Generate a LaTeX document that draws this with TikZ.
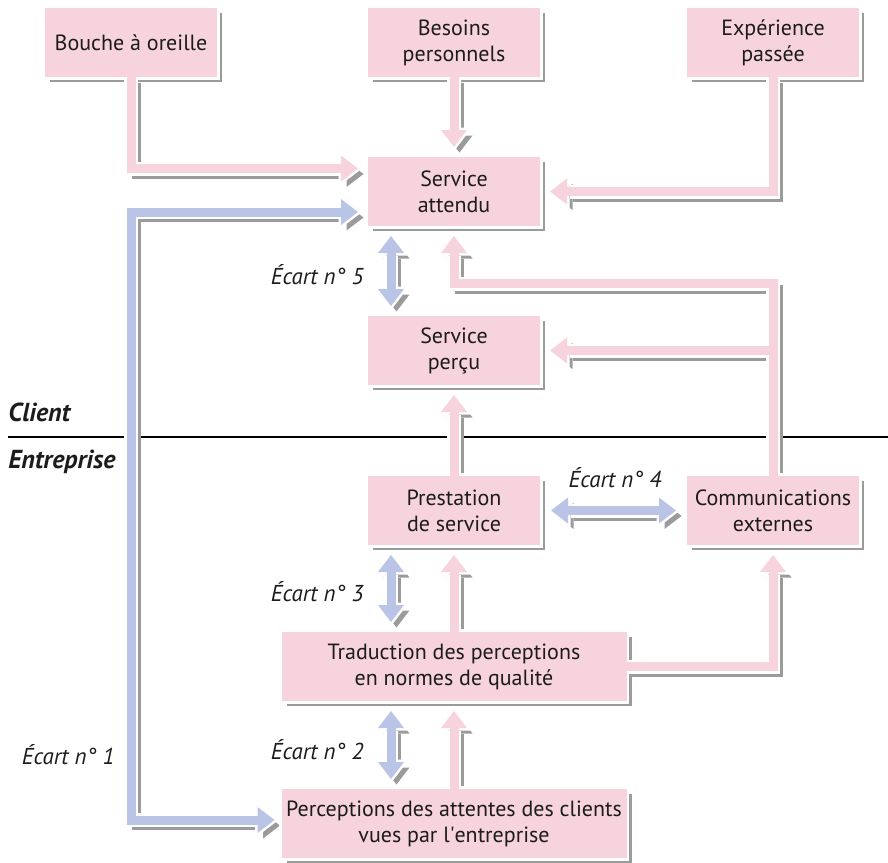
\documentclass[tikz,border=0pt]{standalone}
\usepackage{fontspec}
\setmainfont{PT Sans}
\usetikzlibrary{positioning,arrows.meta,shadows}
\definecolor{rose}{RGB}{246,211,221}
\definecolor{bleu}{RGB}{186,196,230}
\definecolor{gris}{RGB}{155,155,155}
\definecolor{encre}{RGB}{28,28,28}
\pgfdeclarelayer{ombres}
\pgfdeclarelayer{halos}
\pgfdeclarelayer{fleches}
\pgfsetlayers{ombres,main,halos,fleches}

\tikzset{
  boite/.style={fill=rose, minimum width=86pt, minimum height=34.5pt, inner sep=2pt,
    outer sep=0pt, align=center,
    general shadow={fill=gris, shadow xshift=2.65pt, shadow yshift=-2.65pt},
    preaction={draw=white, line width=2.6pt}},
  large/.style={boite, minimum width=172.5pt},
  trait/.style={line width=4.5pt, >={Triangle[length=8.5pt,width=13pt,line width=0pt]}},
  ombre/.style={trait, draw=gris, transform canvas={xshift=2.75pt,yshift=-2.75pt}},
  halo/.style={draw=white, line width=7pt,
    >={Triangle[length=11.8pt,width=18pt,line width=0pt]}, shorten >=-2.05pt},
  separation/.style={draw=black, line width=1pt},
  ecart/.style={font=\fontsize{11.5}{14}\selectfont\itshape, inner sep=0pt},
  zone/.style={font=\fontsize{13}{16}\selectfont\bfseries\itshape, inner sep=0pt, anchor=west},
}

\newcommand{\fleche}[2]{%
  \begin{pgfonlayer}{ombres}\draw[ombre,->] #2;\end{pgfonlayer}
  \begin{pgfonlayer}{halos}\draw[halo,->] #2;\end{pgfonlayer}
  \begin{pgfonlayer}{fleches}\draw[trait,draw=#1,->] #2;\end{pgfonlayer}}
\newcommand{\doublefleche}[2]{%
  \begin{pgfonlayer}{ombres}\draw[ombre,<->] #2;\end{pgfonlayer}
  \begin{pgfonlayer}{halos}\draw[halo,shorten <=-2.05pt,<->] #2;\end{pgfonlayer}
  \begin{pgfonlayer}{fleches}\draw[trait,draw=#1,<->] #2;\end{pgfonlayer}}

\begin{document}
\begin{tikzpicture}[x=0.5pt,y=-0.5pt,font=\fontsize{11}{13}\selectfont,text=encre]
\useasboundingbox (0,0) rectangle (888,862);

\node[boite] (attendu) at (454,191.5) {Service\\attendu};
\node[boite] (besoins) [above=40pt of attendu] {Besoins\\personnels};
\node[boite] (bouche) [left=75.5pt of besoins] {Bouche à oreille};
\node[boite] (experience) [right=73.5pt of besoins] {Expérience\\passée};
\node[boite] (percu) [below=45pt of attendu] {Service\\perçu};
\node[boite] (prestation) [below=45.5pt of percu] {Prestation\\de service};
\node[boite] (comm) [right=73.5pt of prestation] {Communications\\externes};
\node[large] (traduction) [below=43.5pt of prestation] {Traduction des perceptions\\en normes de qualité};
\node[large] (perceptions) [below=44pt of traduction] {Perceptions des attentes des clients\\vues par l\textquotesingle entreprise};

\node[zone] (client) at (8,412) {Client};
\node[zone] (entreprise) at (8,462) {Entreprise};
\node[ecart,anchor=east] (ecart5) at (364,275) {Écart n° 5};
\node[ecart] (ecart4) at (615,478) {Écart n° 4};
\node[ecart,anchor=east] (ecart3) at (364,592) {Écart n° 3};
\node[ecart,anchor=east] (ecart2) at (364,750) {Écart n° 2};
\node[ecart,anchor=east] (ecart1) at (115,755) {Écart n° 1};

\begin{pgfonlayer}{ombres}
\draw[separation] (8,437) -- (888,437);
\end{pgfonlayer}

\coordinate (e1haut) at ([xshift=-5pt,yshift=-10.25pt]attendu.west);
\coordinate (e1bas) at ([xshift=-3.5pt,yshift=1.75pt]perceptions.west);

\fleche{rose}{(bouche.south) |- ([xshift=-5pt,yshift=11.5pt]attendu.west)}
\fleche{rose}{(besoins.south) -- ([yshift=5pt]attendu.north)}
\fleche{rose}{(experience.south) |- ([xshift=5pt]attendu.east)}
\doublefleche{bleu}{(e1haut) -| (bouche.south |- e1bas) -- (e1bas)}
\doublefleche{bleu}{([xshift=-31.5pt,yshift=-5pt]attendu.south) -- ([xshift=-31.5pt,yshift=5pt]percu.north)}
\fleche{rose}{(comm.north |- percu.east) -- ([xshift=5pt]percu.east)}
\fleche{rose}{(comm.north) -- ++(0,-192.5) -| ([yshift=-5pt]attendu.south)}
\fleche{rose}{(prestation.north) -- ([yshift=-5pt]percu.south)}
\doublefleche{bleu}{([xshift=5.5pt]prestation.east) -- ([xshift=-5.5pt]comm.west)}
\doublefleche{bleu}{([xshift=-31.5pt,yshift=-5pt]prestation.south) -- ([xshift=-31.5pt,yshift=5pt]traduction.north)}
\fleche{rose}{(traduction.north) -- ([yshift=-5pt]prestation.south)}
\fleche{rose}{(traduction.east) -| ([yshift=-5pt]comm.south)}
\doublefleche{bleu}{([xshift=-31.5pt,yshift=-5pt]traduction.south) -- ([xshift=-31.5pt,yshift=5pt]perceptions.north)}
\fleche{rose}{(perceptions.north) -- ([yshift=-5pt]traduction.south)}
\end{tikzpicture}
\end{document}
